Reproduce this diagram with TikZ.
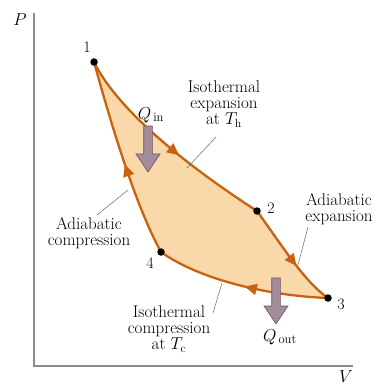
\documentclass[tikz,border=0pt]{standalone}
\usepackage{amsmath}
\usetikzlibrary{arrows.meta, decorations.markings}
\definecolor{cyclefill}{HTML}{F9D8AA}
\definecolor{cycleline}{HTML}{C8620F}
\definecolor{heatfill}{HTML}{A48C98}
\definecolor{heatline}{HTML}{6A5662}
\definecolor{axisgray}{HTML}{8C8C8C}
\tikzset{
  statept/.style  = {circle, fill=black, inner sep=0pt, minimum size=7.5pt},
  ptlabel/.style  = {font=\fontsize{16}{16}\selectfont, inner sep=0pt},
  procname/.style = {align=center, inner sep=0pt,
                     font=\fontsize{17}{16.2}\selectfont},
  heatname/.style = {font=\fontsize{18}{18}\selectfont, inner sep=0pt},
  leader/.style   = {-, line width=0.5pt, black!60},
  axis/.style     = {-, line width=1.4pt, axisgray},
  process/.style  = {draw=cycleline, line width=2.3pt, postaction={decorate},
                     decoration={markings, mark=at position #1 with
                       {\arrow{Triangle[length=12pt, width=11pt]}}}},
  heatarrow/.pic  = {
    \path[fill=heatfill, draw=heatline, line width=0.6pt]
      (-4.3,0) -- (4.3,0) -- (4.3,28) -- (12,28) -- (0,46)
      -- (-12,28) -- (-4.3,28) -- cycle;
  },
}

\begin{document}
\begin{tikzpicture}[x=1pt, y=-1pt]
    \useasboundingbox (0,0) rectangle (381,385);

    % --- axes ---------------------------------------------------------------
    \coordinate (top) at (34,13);
    \coordinate (origin) at (34,366);
    \coordinate (right) at (353,366);
    \draw[axis] (top) -- (origin) -- (right);
    \node[inner sep=0pt] (P) at (20,20) {\fontsize{16}{16}\selectfont $P$};
    \node[inner sep=0pt] (V) at (346,377) {\fontsize{16}{16}\selectfont $V$};

    % --- states -------------------------------------------------------------
    \coordinate (s1) at (94,62);
    \coordinate (s2) at (257,211);
    \coordinate (s3) at (328,298);
    \coordinate (s4) at (161,252);

    % --- cycle --------------------------------------------------------------
    \fill[cyclefill] (s1) .. controls (115,105) and (175,158) .. (s2)
      .. controls (285,250) and (305,282) .. (s3)
      .. controls (270,296) and (200,280) .. (s4)
      .. controls (135,205) and (110,120) .. (s1) -- cycle;
    \draw[process=0.57] (s1) .. controls (115,105) and (175,158) .. (s2);
    \draw[process=0.6] (s2) .. controls (285,250) and (305,282) .. (s3);
    \draw[process=0.48] (s3) .. controls (270,296) and (200,280) .. (s4);
    \draw[process=0.47] (s4) .. controls (135,205) and (110,120) .. (s1);

    \node[statept] (n1) at (s1) {};
    \node[statept] (n2) at (s2) {};
    \node[statept] (n3) at (s3) {};
    \node[statept] (n4) at (s4) {};
    \node[ptlabel] (l1) at (87,47) {1};
    \node[ptlabel] (l2) at (271,208) {2};
    \node[ptlabel] (l3) at (341,304) {3};
    \node[ptlabel] (l4) at (150,263) {4};

    % --- heat ---------------------------------------------------------------
    \pic (qin) at (148,126) {heatarrow};
    \pic (qout) at (276,278) {heatarrow};
    \node[heatname] (Qin) at (151,115) {$Q_{\,\text{in}}$};
    \node[heatname] (Qout) at (280,337) {$Q_{\,\text{out}}$};

    % --- process labels -----------------------------------------------------
    \node[procname] (isoexp) at (224,104)
      {Isothermal\\expansion\\at $T_{\text{h}}$};
    \node[procname] (adexp) at (339,209) {Adiabatic\\expansion};
    \node[procname] (adcomp) at (89,233) {Adiabatic\\compression};
    \node[procname] (isocomp) at (169,329)
      {Isothermal\\compression\\at $T_{\text{c}}$};

    \coordinate (fromisoexp) at (216,137);
    \coordinate (fromadexp) at (308,227);
    \coordinate (fromadcomp) at (97,215);
    \coordinate (fromisocomp) at (213,313);
    \coordinate (onisoexp) at (187,168);
    \coordinate (onadexp) at (298,265);
    \coordinate (onadcomp) at (128,190);
    \coordinate (onisocomp) at (222,283);
    \draw[leader] (fromisoexp) -- (onisoexp);
    \draw[leader] (fromadexp) -- (onadexp);
    \draw[leader] (fromadcomp) -- (onadcomp);
    \draw[leader] (fromisocomp) -- (onisocomp);
\end{tikzpicture}
\end{document}
